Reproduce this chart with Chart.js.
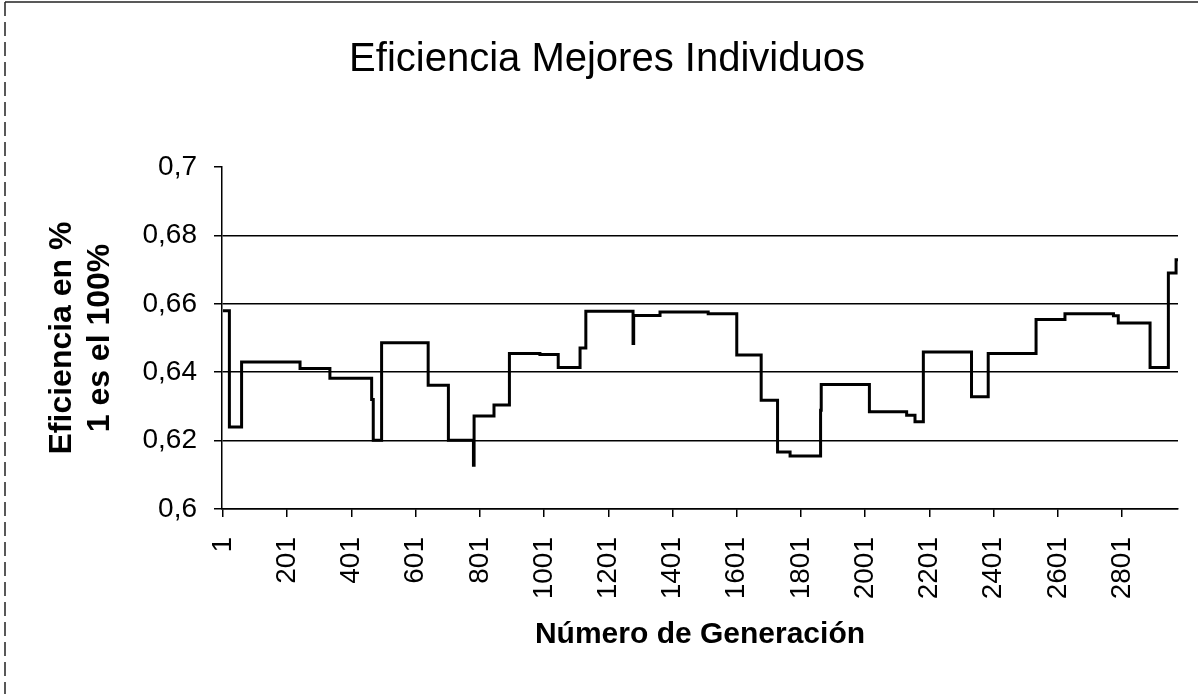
<!DOCTYPE html>
<html>
<head>
<meta charset="utf-8">
<script src="https://cdn.jsdelivr.net/npm/chart.js@4.4.1/dist/chart.umd.min.js"></script>
<style>
  html, body { margin: 0; padding: 0; background: #fff; }
  #wrap { width: 1198px; height: 694px; position: relative; }
</style>
</head>
<body>
<div id="wrap"><canvas id="c" width="1198" height="694"></canvas></div>
<script>
// Generation at which each level starts (step function) and its efficiency
const generations = [1, 21, 59, 241, 334, 464, 469, 495, 640, 703, 781, 783, 845, 893, 988, 1045, 1113, 1131,
  1278, 1280, 1362, 1512, 1601, 1677, 1728, 1767, 1862, 1864, 2014, 2130, 2156, 2182, 2332, 2384,
  2533, 2623, 2774, 2789, 2888, 2945, 2969, 2975];
const efficiency = [0.658, 0.624, 0.643, 0.6411, 0.6382, 0.632, 0.6201, 0.6486, 0.6362, 0.6201, 0.6128, 0.6272, 0.6304, 0.6455, 0.6452, 0.6414, 0.6471, 0.6578,
  0.6484, 0.6566, 0.6576, 0.6571, 0.645, 0.6318, 0.6167, 0.6155, 0.6289, 0.6364, 0.6284, 0.6274, 0.6255, 0.6459, 0.6328, 0.6455,
  0.6554, 0.6571, 0.6565, 0.6544, 0.6414, 0.669, 0.6729, 0.6729];
const xTickValues = [1, 201, 401, 601, 801, 1001, 1201, 1401, 1601, 1801, 2001, 2201, 2401, 2601, 2801];
const yTickValues = [0.6, 0.62, 0.64, 0.66, 0.68, 0.7];

const titleText = 'Eficiencia Mejores Individuos';
const xTitle = 'Número de Generación';
const yTitle = ['Eficiencia en %', '1 es el 100%'];

const FONT = "'Liberation Sans', Arial, sans-serif";

const points = generations.map((g, i) => ({ x: g, y: efficiency[i] }));

const frame = {
  id: 'frame',
  beforeDraw(chart) {
    const ctx = chart.ctx;
    ctx.save();
    ctx.strokeStyle = '#222';
    ctx.lineWidth = 1.5;
    ctx.beginPath();
    ctx.moveTo(5, 2); ctx.lineTo(1198, 2);
    ctx.stroke();
    ctx.setLineDash([14, 6]);
    ctx.beginPath();
    ctx.moveTo(5, 2); ctx.lineTo(5, 694);
    ctx.stroke();
    ctx.restore();
  }
};

new Chart(document.getElementById('c'), {
  type: 'line',
  data: {
    datasets: [{
      data: points,
      stepped: true,
      borderColor: '#000',
      borderWidth: 3,
      pointRadius: 0,
      fill: false,
      tension: 0
    }]
  },
  plugins: [frame],
  options: {
    responsive: false,
    animation: false,
    devicePixelRatio: 1,
    layout: { padding: { left: 36, right: 20, top: 0, bottom: 0 } },
    plugins: {
      legend: { display: false },
      tooltip: { enabled: false },
      title: {
        display: true,
        text: titleText,
        color: '#000',
        font: { family: FONT, size: 40, weight: 'normal', lineHeight: 1.2 },
        padding: { top: 36, bottom: 83 }
      }
    },
    scales: {
      x: {
        type: 'linear',
        min: -2,
        max: 2975,
        afterBuildTicks(scale) { scale.ticks = xTickValues.map(v => ({ value: v })); },
        afterFit(scale) { scale.height = 185; },
        ticks: {
          autoSkip: false,
          minRotation: 90,
          maxRotation: 90,
          padding: 20,
          color: '#000',
          font: { family: FONT, size: 28 },
          callback: (v) => String(v)
        },
        grid: { drawOnChartArea: false, drawTicks: true, tickLength: 8, color: '#000', lineWidth: 1.5 },
        border: { display: true, color: '#000', width: 1.5 },
        title: {
          display: true,
          text: xTitle,
          color: '#000',
          font: { family: FONT, size: 30, weight: 'bold', lineHeight: 1.2 },
          padding: { top: 0, bottom: 41 }
        }
      },
      y: {
        type: 'linear',
        min: 0.6,
        max: 0.7,
        afterBuildTicks(scale) { scale.ticks = yTickValues.map(v => ({ value: v })); },
        afterFit(scale) { scale.width = 186; },
        ticks: {
          padding: 17,
          color: '#000',
          font: { family: FONT, size: 28 },
          callback: (v) => String(Number(v.toFixed(2))).replace('.', ',')
        },
        grid: {
          drawTicks: true,
          tickLength: 8,
          lineWidth: 1.5,
          color: (c) => (c.tick && Math.abs(c.tick.value - 0.7) < 1e-9) ? 'rgba(0,0,0,0)' : '#000',
          tickColor: '#000'
        },
        border: { display: true, color: '#000', width: 1.5 },
        title: {
          display: true,
          text: yTitle,
          color: '#000',
          font: { family: FONT, size: 32, weight: 'bold', lineHeight: 1.2 },
          padding: { top: 7, bottom: 0 }
        }
      }
    }
  }
});
</script>
</body>
</html>
